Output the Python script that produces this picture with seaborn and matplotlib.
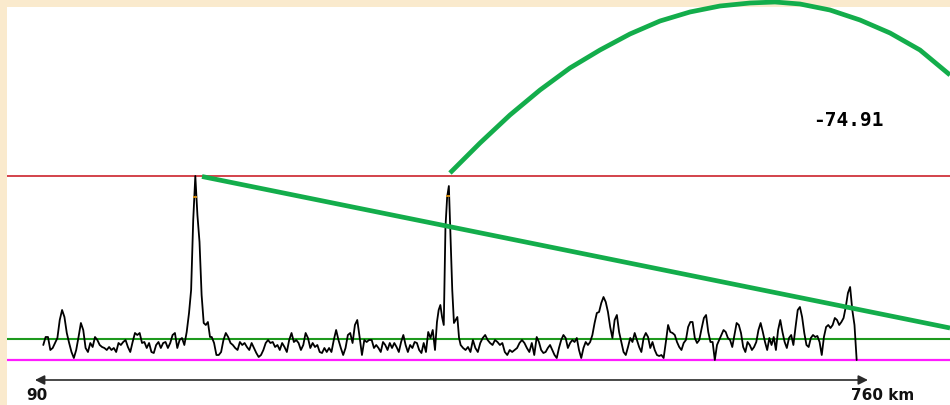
import numpy as np
import matplotlib
matplotlib.use("Agg")
import matplotlib.pyplot as plt
import seaborn as sns

# trace pieces: (start km, end km, amplitudes sampled evenly between them)
piece_a_km = (94.3, 211.2)
piece_a = [15, 23, 23, 10, 12, 17, 22, 40, 50, 43, 27, 17, 8, 2, 10, 23, 37, 30, 12, 8,
           17, 13, 23, 20, 15, 13, 12, 10, 13, 10, 12, 8, 17, 15, 18, 20, 13, 8, 18, 27,
           25, 27, 17, 18, 12, 17, 8, 7, 15, 18, 12, 17, 18, 12, 17, 25, 27, 12, 20, 22,
           15, 28]
piece_b_km = (213.1, 230.2)
piece_b = [47, 70, 140, 184, 145, 118, 65, 37, 35, 38, 23]
piece_c_km = (231.6, 359.8)
piece_c = [23, 17, 5, 5, 8, 20, 27, 23, 17, 15, 12, 10, 18, 15, 17, 13, 10, 17, 12, 7,
           3, 5, 10, 17, 20, 17, 18, 13, 15, 10, 17, 13, 8, 20, 27, 18, 20, 17, 10, 15,
           27, 22, 12, 17, 13, 15, 8, 7, 12, 8, 12, 8, 20, 30, 20, 12, 5, 12, 25, 27,
           17, 35, 40, 23, 5, 20, 18, 20]
piece_d_km = (362.0, 413.6)
piece_d = [20, 12, 15, 12, 8, 18, 15, 10, 17, 12, 17, 13, 8, 18, 25, 15, 8, 15, 12, 18,
           17, 10, 7, 17, 8, 28, 22, 30, 10]
piece_e_km = (415.2, 433.2)
piece_e = [38, 50, 55, 43, 35, 133, 163, 174, 123, 70, 37, 40, 43, 22]
piece_f_km = (434.5, 494.5)
piece_f = [15, 12, 10, 13, 8, 20, 12, 8, 17, 22, 25, 20, 17, 15, 20, 18, 15, 17, 8, 5,
           10, 8, 10, 12, 17, 20, 17, 12, 8, 17, 5]
piece_g_km = (496.5, 629.0)
piece_g = [23, 18, 10, 7, 8, 12, 15, 10, 5, 2, 12, 20, 25, 22, 12, 17, 20, 18, 22, 10,
           2, 12, 18, 15, 18, 25, 37, 47, 48, 57, 63, 58, 48, 33, 22, 40, 45, 28, 18, 8,
           5, 13, 22, 18, 27, 20, 13, 8, 22, 27, 23, 12, 18, 10, 5, 4, 5, 2, 18, 35,
           28, 27, 25, 18, 13, 10, 17, 20, 33, 38, 38, 22, 17, 20]
piece_h_km = (631.0, 757.3)
piece_h = [32, 42, 45, 28, 18, 18, 0, 15, 20, 25, 30, 28, 22, 20, 13, 25, 37, 35, 27, 13,
           8, 18, 15, 10, 13, 18, 30, 37, 28, 18, 10, 22, 15, 23, 10, 30, 40, 28, 18, 12,
           22, 25, 15, 33, 50, 53, 43, 27, 15, 13, 22, 25, 23, 24, 18, 5, 23, 33, 35, 32,
           35, 42, 40, 35, 38, 42, 53, 67, 73, 50, 35, 0]

# reference levels
red_level = 184
green_level = 21
base_level = 0

# straight green line and green arc
slope_km = [223.7, 833.4]
slope_amp = [183.5, 32]
arc_km = [425.8, 450.3, 474.7, 499.2, 523.6, 548.1, 572.5, 597.0, 621.4, 645.9,
          670.3, 690.7, 711.1, 735.5, 760.0, 784.5, 808.9, 833.4]
arc_amp = [187, 217, 245, 270, 292, 310, 326, 339, 348, 354,
           357, 358, 356, 350, 340, 327, 310, 285]

peak_marks_km = [218.0, 424.2]
peak_marks_amp = [163, 164]

value_text = "-74.91"
start_label = "90"
end_label = "760 km"

pieces = [(piece_a_km, piece_a), (piece_b_km, piece_b), (piece_c_km, piece_c),
          (piece_d_km, piece_d), (piece_e_km, piece_e), (piece_f_km, piece_f),
          (piece_g_km, piece_g), (piece_h_km, piece_h)]
trace_x = np.concatenate([np.linspace(k[0], k[1], len(v)) for k, v in pieces])
trace_y = np.concatenate([np.array(v, dtype=float) for k, v in pieces])

sns.set_style("white")
fig = plt.figure(figsize=(9.5, 4.05), dpi=100)
fig.patch.set_facecolor("#faeacd")
ax = fig.add_axes([7 / 950, 0, 943 / 950, 398 / 405])
ax.set_facecolor("white")

ax.axhline(red_level, color="#c8101a", lw=1.1, zorder=1)
ax.axhline(green_level, color="#1e9a1e", lw=1.5, zorder=1)
ax.axhline(base_level, color="#ff1cff", lw=1.6, zorder=1)

sns.lineplot(x=trace_x, y=trace_y, color="black", lw=1.3, estimator=None,
             sort=False, ax=ax, zorder=3)
ax.scatter(peak_marks_km, peak_marks_amp, marker="_", s=10, color="#d08a10",
           linewidths=1.4, zorder=4)

ax.plot(slope_km, slope_amp, color="#13ad4b", lw=3.4, solid_capstyle="butt", zorder=5)
ax.plot(arc_km, arc_amp, color="#13ad4b", lw=3.4, solid_capstyle="butt",
        zorder=5, clip_on=False)

ax.text(750.2, 239, value_text, ha="center", va="center", fontsize=14,
        fontweight="bold", family="DejaVu Sans Mono", color="black")

ax.annotate("", xy=(87.5, -20), xytext=(766.5, -20),
            arrowprops=dict(arrowstyle="<|-|>", color="#2a2a2a", lw=1.2,
                            mutation_scale=14, shrinkA=0, shrinkB=0))
ax.text(89.2, -36, start_label, ha="center", va="center", fontsize=11,
        fontweight="bold", color="#111111")
ax.text(752.7, -36, end_label, ha="left", va="center", fontsize=11,
        fontweight="bold", color="#111111")

ax.set_xlim(64.73, 833.38)
ax.set_ylim(-45, 353)
ax.set_xlabel("")
ax.set_ylabel("")
ax.set_xticks([])
ax.set_yticks([])
for s in ax.spines.values():
    s.set_visible(False)

fig.savefig("out.png", dpi=100, facecolor=fig.get_facecolor())
